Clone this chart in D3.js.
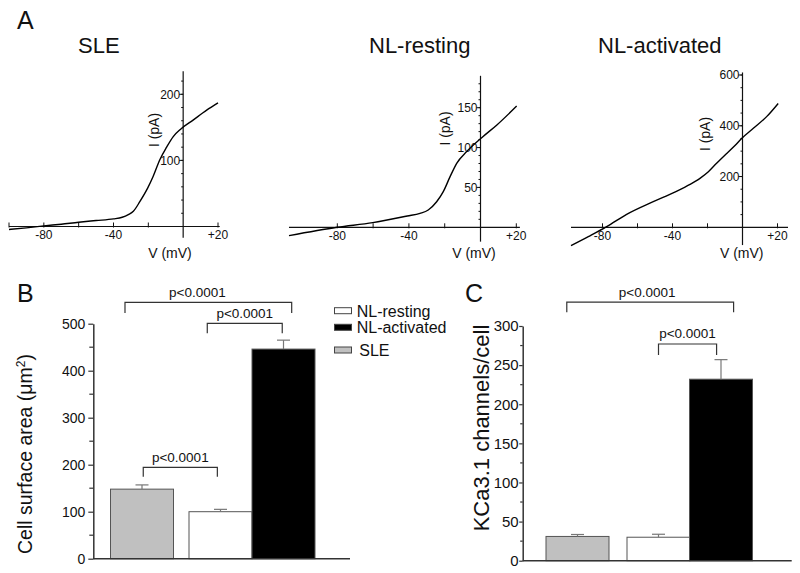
<!DOCTYPE html>
<html><head><meta charset="utf-8">
<script src="https://cdn.jsdelivr.net/npm/d3@7"></script>
<style>
body{margin:0;background:#fff}
svg{display:block}
text{font-family:"Liberation Sans",Arial,Helvetica,sans-serif;fill:#111}
</style>
</head><body>
<svg id="chart" width="800" height="573"></svg>
<script>
// ---------- Panel A: I-V curves (V in mV, I in pA) ----------
const sleV = [-100, -90, -80, -70, -60, -50, -40, -35, -31.5, -28.6, -24.8, -20.4, -17.2, -13.4, -9.5, -5.7, -1.3, 5.7, 13.5, 20];
const sleI = [-4.5, -2, 1, 3.5, 6.5, 9, 11.5, 14, 18, 23, 38, 58, 76, 101, 120, 136, 147.6, 161, 176, 187];
const restV = [-107, -80, -60.2, -40.9, -33.8, -29.2, -24.5, -20.8, -17, -13.3, -7.7, 1, 9, 20.2];
const restI = [-10.5, 0, 5.8, 14.2, 17.5, 21.7, 32, 44.7, 63.5, 80.3, 95, 113, 128, 152];
const actV = [-98, -88.1, -77.6, -66.2, -51, -39, -30, -24.3, -19.5, -14.8, -9, -4.3, -0.5, 6.2, 13.8, 20.4];
const actI = [-72.5, -37, 2.4, 51, 101, 138, 169, 193, 219, 252, 291, 322, 350, 390, 436, 488];
const ivTitles = ["SLE", "NL-resting", "NL-activated"];
const vTickLabels = [-80, -40, 20];

// ---------- Panels B & C: bar charts ----------
const barCats = ["SLE", "NL-resting", "NL-activated"];
const areaMean = [148, 100, 446];
const areaErr = [9, 5, 19];
const kcaMean = [31, 30, 232];
const kcaErr = [2.5, 3.8, 25];
const areaTicks = [0, 100, 200, 300, 400, 500];
const kcaTicks = [0, 50, 100, 150, 200, 250, 300];
const legendCats = ["NL-resting", "NL-activated", "SLE"];
const pLabel = "p<0.0001";

const barFill = {"SLE": "#c0c0c0", "NL-resting": "#ffffff", "NL-activated": "#000000"};

const svg = d3.select("#chart");

function ivPanel(p) {
  const x = d3.scaleLinear().domain(p.xd).range(p.xr);
  const y = d3.scaleLinear().domain(p.yd).range(p.yr);
  const g = svg.append("g");
  const x0 = x(0), y0 = y(0);
  const stroke = "#111";
  g.append("line").attr("x1", x(p.xAxis[0])).attr("x2", x(p.xAxis[1]))
    .attr("y1", y0).attr("y2", y0).attr("stroke", stroke).attr("stroke-width", 1.2);
  g.append("line").attr("x1", x0).attr("x2", x0)
    .attr("y1", y(p.yAxis[0])).attr("y2", y(p.yAxis[1])).attr("stroke", stroke).attr("stroke-width", 1.2);
  g.append("g").selectAll("line").data(p.xTicks).join("line")
    .attr("x1", d => x(d)).attr("x2", d => x(d)).attr("y1", y0 - 4).attr("y2", y0 + 1)
    .attr("stroke", stroke).attr("stroke-width", 1);
  g.append("g").selectAll("text").data(vTickLabels).join("text")
    .attr("x", d => x(d)).attr("y", y0 + 12.8).attr("text-anchor", "middle")
    .attr("font-size", 12).text(d => d > 0 ? "+" + d : String(d));
  g.append("g").selectAll("line").data(p.yMinor).join("line")
    .attr("x1", x0 - 2).attr("x2", x0).attr("y1", d => y(d)).attr("y2", d => y(d))
    .attr("stroke", stroke).attr("stroke-width", 1);
  g.append("g").selectAll("line").data(p.yMajor).join("line")
    .attr("x1", x0 - 4).attr("x2", x0).attr("y1", d => y(d)).attr("y2", d => y(d))
    .attr("stroke", stroke).attr("stroke-width", 1);
  g.append("g").selectAll("text").data(p.yMajor).join("text")
    .attr("x", x0 - 3).attr("y", d => y(d)).attr("dy", "0.36em").attr("text-anchor", "end")
    .attr("font-size", 12).text(d => d);
  const pts = p.V.map((v, i) => [v, p.I[i]]);
  g.append("path").datum(pts)
    .attr("d", d3.line().x(d => x(d[0])).y(d => y(d[1])).curve(d3.curveMonotoneX))
    .attr("fill", "none").attr("stroke", "#000").attr("stroke-width", 1.4);
  g.append("text").attr("x", p.titleX).attr("y", 52.5).attr("font-size", 22).text(p.title);
  g.append("text").attr("x", p.vLabX).attr("y", 258.3).attr("text-anchor", "middle")
    .attr("font-size", 14).text("V (mV)");
  g.append("text").attr("transform", `translate(${p.iLab[0]},${p.iLab[1]}) rotate(-90)`)
    .attr("text-anchor", "middle").attr("font-size", 14).text("I (pA)");
}

ivPanel({V: sleV, I: sleI, xd: [-100, 20], xr: [9, 218], yd: [0, 200], yr: [226.5, 94.3],
  xAxis: [-100, 21], yAxis: [-17, 235], xTicks: [-100, -80, -60, -40, -20, 20],
  yMajor: [100, 200], yMinor: d3.range(20, 221, 20),
  title: ivTitles[0], titleX: 78, vLabX: 170, iLab: [159, 130]});
ivPanel({V: restV, I: restI, xd: [-108, 20], xr: [287.2, 516.3], yd: [0, 150], yr: [227.3, 107.7],
  xAxis: [-107, 22], yAxis: [-18, 190], xTicks: [-80, -60, -40, -20, 20],
  yMajor: [50, 100, 150], yMinor: d3.range(10, 181, 10),
  title: ivTitles[1], titleX: 369, vLabX: 474, iLab: [450, 128.5]});
ivPanel({V: actV, I: actI, xd: [-98, 26], xr: [571, 788], yd: [0, 600], yr: [227.3, 75],
  xAxis: [-98, 26], yAxis: [-70, 610], xTicks: [-80, -60, -40, -20, 20],
  yMajor: [200, 400, 600], yMinor: d3.range(50, 601, 50),
  title: ivTitles[2], titleX: 598, vLabX: 741.7, iLab: [710, 134]});

// panel letters
svg.append("text").attr("x", 17).attr("y", 28.5).attr("font-size", 25).text("A");
svg.append("text").attr("x", 17).attr("y", 302).attr("font-size", 25).text("B");
svg.append("text").attr("x", 465).attr("y", 302).attr("font-size", 25).text("C");

function barPanel(p) {
  const y = d3.scaleLinear().domain([0, p.ymax]).range(p.yr);
  const x = d3.scaleOrdinal().domain(barCats).range(p.barX);
  const w = p.bw;
  const g = svg.append("g");
  g.append("g").selectAll("rect").data(barCats).join("rect")
    .attr("x", d => x(d)).attr("y", (d, i) => y(p.mean[i]))
    .attr("width", w).attr("height", (d, i) => y(0) - y(p.mean[i]))
    .attr("fill", d => barFill[d]).attr("stroke", "#555").attr("stroke-width", 1);
  const eb = g.append("g").attr("stroke", "#777").attr("stroke-width", 1.2);
  barCats.forEach((c, i) => {
    const cx = x(c) + w / 2;
    eb.append("line").attr("x1", cx).attr("x2", cx).attr("y1", y(p.mean[i])).attr("y2", y(p.mean[i] + p.err[i]));
    eb.append("line").attr("x1", cx - 6.5).attr("x2", cx + 6.5).attr("y1", y(p.mean[i] + p.err[i])).attr("y2", y(p.mean[i] + p.err[i]));
  });
  const ax = d3.axisLeft(y).tickValues(p.ticks).tickSizeInner(p.tickLen).tickSizeOuter(0)
    .tickPadding(p.tickPad).tickFormat(d3.format("d"));
  const ag = g.append("g").attr("transform", `translate(${p.ax},0)`).call(ax);
  ag.selectAll("text").attr("font-size", p.tickFont).style("font-family", '"Liberation Sans",Arial,sans-serif').attr("fill", "#111");
  ag.selectAll("line").attr("stroke", "#333").attr("stroke-width", 1.2);
  ag.select(".domain").attr("stroke", "#333").attr("stroke-width", 1.5);
  g.append("g").selectAll("line").data(p.minor).join("line")
    .attr("x1", p.ax - p.tickLen + 1).attr("x2", p.ax).attr("y1", d => y(d)).attr("y2", d => y(d))
    .attr("stroke", "#333").attr("stroke-width", 1.2);
  g.append("line").attr("x1", p.ax).attr("x2", p.xEnd).attr("y1", y(0)).attr("y2", y(0))
    .attr("stroke", "#333").attr("stroke-width", 1.5);
  // significance brackets
  const bg = g.append("g");
  p.brackets.forEach(b => {
    const xa = x(b.a) + b.fa * w, xb = x(b.b) + b.fb * w;
    const yl = y(b.level), yg = y(b.leg);
    bg.append("path").attr("d", `M${xa},${yg}V${yl}H${xb}V${yg}`)
      .attr("fill", "none").attr("stroke", "#333").attr("stroke-width", 1.2);
    bg.append("text").attr("x", (xa + xb) / 2 + (b.dx || 0)).attr("y", yl - 5.5)
      .attr("text-anchor", "middle").attr("font-size", 13.5).text(pLabel);
  });
  // y label
  const t = g.append("text").attr("transform", `translate(${p.yLab[0]},${p.yLab[1]}) rotate(-90)`)
    .attr("text-anchor", "middle").attr("font-size", p.yLabFont);
  p.yLabelFn(t);
}

barPanel({mean: areaMean, err: areaErr, ymax: 500, yr: [558.7, 323.7], ax: 93.3, xEnd: 350,
  barX: [110.5, 189, 252], bw: 63, ticks: areaTicks, minor: d3.range(50, 500, 100),
  tickLen: 5, tickPad: 3, tickFont: 14,
  brackets: [
    {a: "SLE", b: "NL-activated", level: 545.5, leg: 523, fa: 0.23, fb: 0.63, dx: -11},
    {a: "NL-resting", b: "NL-activated", level: 500.8, leg: 479.6, fa: 0.29, fb: 0.48},
    {a: "SLE", b: "NL-resting", level: 194.5, leg: 174.5, fa: 0.52, fb: 0.45}
  ],
  yLab: [32, 454], yLabFont: 19.5,
  yLabelFn: t => {
    t.append("tspan").text("Cell surface area (\u03bcm");
    t.append("tspan").attr("baseline-shift", "super").attr("font-size", 12).text("2");
    t.append("tspan").text(")");
  }});

barPanel({mean: kcaMean, err: kcaErr, ymax: 300, yr: [560.7, 326], ax: 522.7, xEnd: 791.7,
  barX: [546, 627, 689.5], bw: 63, ticks: kcaTicks, minor: d3.range(25, 300, 50),
  tickLen: 3.5, tickPad: 0.5, tickFont: 15,
  brackets: [
    {a: "SLE", b: "NL-activated", level: 330.4, leg: 317.6, fa: 0.33, fb: 0.70, dx: -3},
    {a: "NL-resting", b: "NL-activated", level: 277, leg: 263, fa: 0.5, fb: 0.43}
  ],
  yLab: [488.5, 428], yLabFont: 22,
  yLabelFn: t => t.text("KCa3.1 channels/cell")});

// legend
const leg = svg.append("g");
const legY = d3.scaleOrdinal().domain(legendCats).range([316.7, 333.3, 356]);
legendCats.forEach(c => {
  leg.append("rect").attr("x", 334.5).attr("y", legY(c) - 9).attr("width", 17).attr("height", 6)
    .attr("fill", barFill[c]).attr("stroke", "#444").attr("stroke-width", 1);
  leg.append("text").attr("x", c === "SLE" ? 359.3 : 356.7).attr("y", legY(c))
    .attr("font-size", 16).text(c);
});
</script>
</body></html>
